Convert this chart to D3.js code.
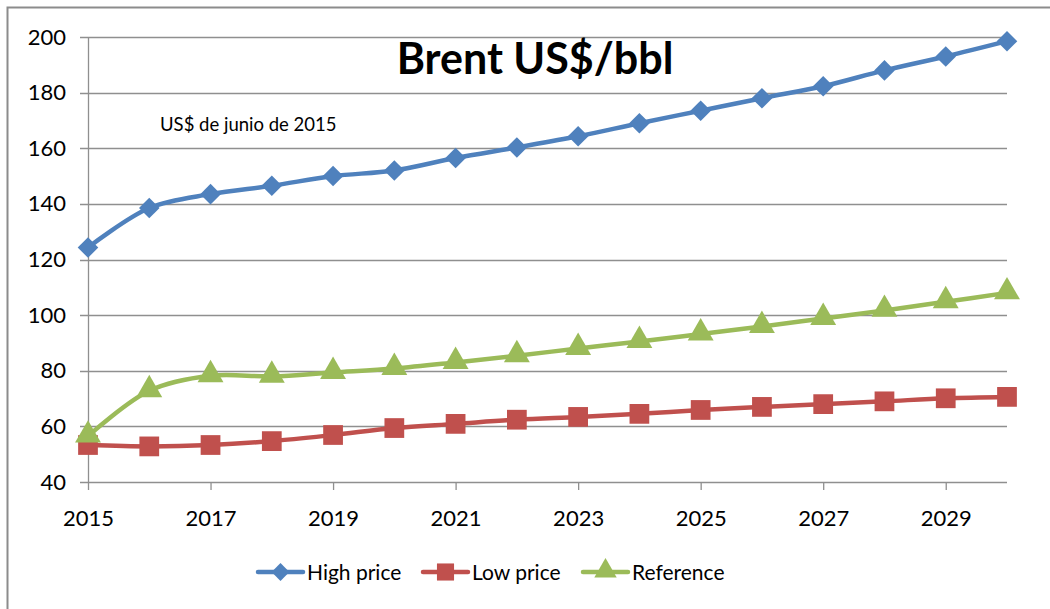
<!DOCTYPE html>
<html>
<head>
<meta charset="utf-8">
<script src="https://cdn.jsdelivr.net/npm/d3@7"></script>
<style>
  body { margin: 0; background: #fff; }
  svg { display: block; font-family: Lato, "Open Sans", sans-serif; }
</style>
</head>
<body>
<div id="chart"></div>
<script>
// data
const years = [2015, 2016, 2017, 2018, 2019, 2020, 2021, 2022, 2023, 2024, 2025, 2026, 2027, 2028, 2029, 2030];
const highPrice = [124.3, 138.5, 143.5, 146.5, 150, 152, 156.5, 160.3, 164.3, 169, 173.5, 178, 182.3, 188, 193, 198.5];
const lowPrice = [53.3, 52.8, 53.3, 54.7, 56.9, 59.4, 60.9, 62.4, 63.4, 64.5, 65.9, 67, 68, 69, 70.1, 70.6];
const reference = [56.5, 72.8, 78.2, 78, 79.4, 80.8, 83, 85.4, 88, 90.5, 93.2, 95.9, 98.8, 101.7, 104.8, 108];
const xTicks = [2015, 2017, 2019, 2021, 2023, 2025, 2027, 2029];
const yTicks = [40, 60, 80, 100, 120, 140, 160, 180, 200];
const seriesNames = ["High price", "Low price", "Reference"];
const seriesColors = ["#4F81BD", "#C0504D", "#9BBB59"];
const seriesMarkers = ["diamond", "square", "triangle"];
const chartTitle = "Brent US$/bbl";
const subTitle = "US$ de junio de 2015";

const width = 1050, height = 609;
const margin = { top: 37, right: 43, bottom: 127, left: 88 };
const innerW = width - margin.left - margin.right;
const innerH = height - margin.top - margin.bottom;
const font = "Lato, 'Open Sans', sans-serif";

const svg = d3.select("#chart").append("svg")
  .attr("width", width)
  .attr("height", height);

// chart border (cropped at right and bottom in the reference)
svg.append("rect")
  .attr("x", 7.5).attr("y", 7.5)
  .attr("width", width + 20).attr("height", height + 20)
  .attr("fill", "none")
  .attr("stroke", "#8c8c8c")
  .attr("stroke-width", 2);

const g = svg.append("g").attr("transform", `translate(${margin.left},${margin.top})`);

const x = d3.scaleLinear().domain([2015, 2030]).range([0, innerW]);
const y = d3.scaleLinear().domain([40, 200]).range([innerH, 0]);

// gridlines
g.append("g")
  .selectAll("line")
  .data(yTicks)
  .join("line")
  .attr("x1", -8).attr("x2", innerW)
  .attr("y1", d => Math.round(y(d)) + 0.5).attr("y2", d => Math.round(y(d)) + 0.5)
  .attr("stroke", "#8f8f8f")
  .attr("stroke-width", 1.3);

// y axis
const yAxis = g.append("g")
  .call(d3.axisLeft(y).tickValues(yTicks).tickSize(0).tickPadding(22));
yAxis.select(".domain").attr("stroke", "#8f8f8f").attr("stroke-width", 1.3);
yAxis.selectAll("text").attr("font-size", 22).attr("fill", "#000").attr("font-family", font);

// x axis
const xAxis = g.append("g")
  .attr("transform", `translate(0,${innerH})`)
  .call(d3.axisBottom(x).tickValues(xTicks).tickFormat(d3.format("d")).tickSize(8).tickPadding(20));
xAxis.select(".domain").remove();
xAxis.selectAll(".tick line").attr("stroke", "#8f8f8f").attr("stroke-width", 1.3);
xAxis.selectAll("text").attr("font-size", 22).attr("fill", "#000").attr("font-family", font);

// title and note
svg.append("text")
  .attr("x", 535).attr("y", 74)
  .attr("text-anchor", "middle")
  .attr("font-size", 43)
  .attr("font-weight", "bold")
  .text(chartTitle);

svg.append("text")
  .attr("x", 160).attr("y", 131)
  .attr("font-size", 18.5)
  .text(subTitle);

// markers
function markerPath(type, s) {
  const sym = { diamond: d3.symbolDiamond2, square: d3.symbolSquare, triangle: d3.symbolTriangle }[type];
  return d3.symbol().type(sym).size(s)();
}
const markerSize = { diamond: 270, square: 390, triangle: 290 };

const allSeries = [highPrice, lowPrice, reference];
const line = d3.line()
  .x((d, i) => x(years[i]))
  .y(d => y(d))
  .curve(d3.curveCatmullRom.alpha(0.5));

allSeries.forEach((vals, k) => {
  g.append("path")
    .datum(vals)
    .attr("fill", "none")
    .attr("stroke", seriesColors[k])
    .attr("stroke-width", 4.5)
    .attr("stroke-linejoin", "round")
    .attr("d", line);
  g.append("g")
    .selectAll("path")
    .data(vals)
    .join("path")
    .attr("transform", (d, i) => `translate(${x(years[i])},${y(d) + (seriesMarkers[k] === "triangle" ? -1 : 0)})`)
    .attr("d", markerPath(seriesMarkers[k], markerSize[seriesMarkers[k]]))
    .attr("fill", seriesColors[k]);
});

// legend
const legendX = [258, 423, 583];
const legend = svg.append("g");
seriesNames.forEach((name, k) => {
  const lg = legend.append("g").attr("transform", `translate(${legendX[k]},572)`);
  lg.append("line")
    .attr("x1", 0).attr("x2", 45)
    .attr("stroke", seriesColors[k])
    .attr("stroke-width", 4.5)
    .attr("stroke-linecap", "round");
  lg.append("path")
    .attr("transform", `translate(22.5,${seriesMarkers[k] === "triangle" ? -1 : 0})`)
    .attr("d", markerPath(seriesMarkers[k], markerSize[seriesMarkers[k]] * 0.75))
    .attr("fill", seriesColors[k]);
  lg.append("text")
    .attr("x", 49).attr("y", 8)
    .attr("font-size", 21)
    .text(name);
});
</script>
</body>
</html>
